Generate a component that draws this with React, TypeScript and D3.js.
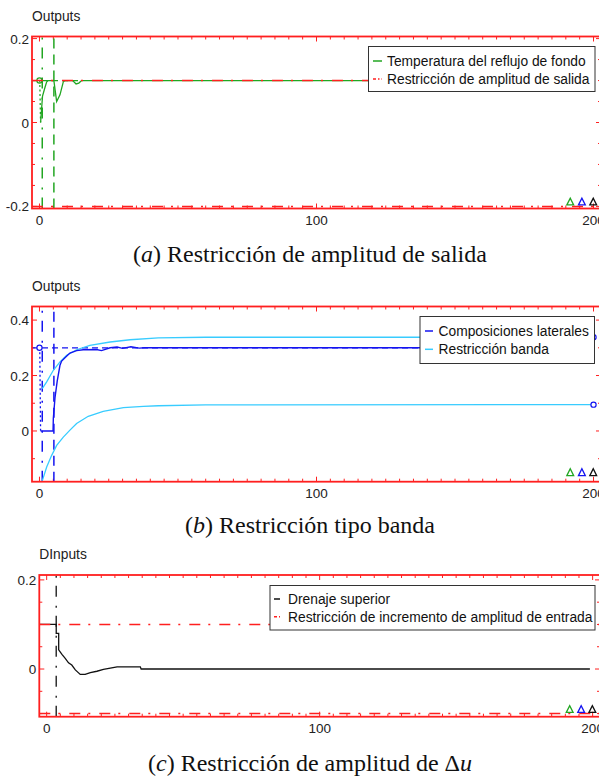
import React from "react";
import * as d3 from "d3";

// ---------- shared ----------
const SANS = "'Liberation Sans', Arial, Helvetica, sans-serif";
const SERIF = "'Liberation Serif', 'Times New Roman', serif";
const RED = "#ff1f1f";
const GREEN = "#22a622";
const BLUE = "#1414f0";
const CYAN = "#38ccff";
const BLACK = "#111111";

const xExtent = [-2.7, 202.7];
const xMinorStep = 5;
const xLabels = [0, 100, 200];
const horizonTriangleT = [191.6, 195.8, 199.9];
const horizonTriangleColors = [GREEN, BLUE, BLACK];

// ---------- panel (a): output amplitude constraint ----------
const aTime = [0.4, 1.1, 2.0, 2.6, 3.2, 5.2, 6.2, 7.4, 8.6, 9.2, 12.0, 13.2, 14.2, 15.2, 200];
const aTemp = [0.0, 0.063, 0.084, 0.097, 0.1, 0.1, 0.05, 0.066, 0.097, 0.1, 0.1, 0.092, 0.094, 0.1, 0.1];
const aStartTime = [0.1, 0.4];
const aStartValue = [0.1, 0.0];
const aSetpoint = 0.1;
const aSetpointEnd = 15;
const aLimits = [0.1, -0.2];
const aYDomain = [-0.205, 0.205];
const aYMinor = 0.05;
const aYLabels = [-0.2, 0, 0.2];

// ---------- panel (b): band constraint ----------
const bTime = [0.4, 4.9, 5.0, 5.6, 6.4, 7.4, 8.0, 9.2, 11.0, 13.4, 15.8, 20.6, 22.4, 25.5, 28, 30, 33, 36, 38, 200];
const bComp = [0, 0, 0.045, 0.12, 0.18, 0.237, 0.252, 0.264, 0.281, 0.29, 0.293, 0.294, 0.29, 0.3, 0.303, 0.298, 0.304, 0.299, 0.3, 0.3];
const bStartTime = [0.1, 0.4];
const bStartValue = [0.3, 0.0];
const bSetpoint = 0.3;
const bBandUpperTime = [1.0, 2.6, 5.0, 7.4, 9.8, 13.4, 18.2, 25.5, 32.7, 42.9, 60, 200];
const bBandUpper = [0.153, 0.177, 0.219, 0.249, 0.273, 0.293, 0.309, 0.321, 0.329, 0.336, 0.338, 0.338];
const bBandLowerTime = [1.0, 2.6, 4.4, 6.2, 8.6, 11.0, 13.4, 17.6, 23.0, 30.3, 37.5, 42.9, 60, 200];
const bBandLower = [-0.18, -0.13, -0.088, -0.052, -0.022, 0.003, 0.027, 0.053, 0.071, 0.084, 0.089, 0.091, 0.094, 0.095];
const bYDomain = [-0.183, 0.449];
const bYMinor = 0.1;
const bYLabels = [0, 0.2, 0.4];

// ---------- panel (c): input increment constraint ----------
const cTime = [-2.7, 3.5, 3.5, 4.4, 4.4, 5.6, 6.8, 8.0, 9.2, 10.5, 12.3, 14.1, 16.0, 18.4, 20.8, 23.3, 25.8, 34.3, 34.6, 199];
const cDrain = [0.1, 0.1, 0.08, 0.08, 0.043, 0.033, 0.024, 0.014, 0.009, -0.002, -0.012, -0.012, -0.008, -0.005, -0.001, 0.002, 0.005, 0.005, 0.0, 0.0];
const cMark = 3.5;
const cLimits = [0.1, -0.1];
const cYDomain = [-0.107, 0.211];
const cYMinor = 0.05;
const cYLabels = [0, 0.2];

const DASH_DOT = "11,8,2,9";
const DASHED = "10,6";
const DOTTED = "2,2.5";

type Scale = d3.ScaleLinear<number, number>;

const zip = (t: number[], v: number[]) => t.map((d, i) => [d, v[i]] as [number, number]);

function pathOf(x: Scale, y: Scale, pts: [number, number][]) {
  return d3
    .line<[number, number]>()
    .x((d) => x(d[0]))
    .y((d) => y(d[1]))(pts) as string;
}

function Axes({ x, y, yMinor, yLabels, title, titleY, clipId }: {
  x: Scale; y: Scale; yMinor: number; yLabels: number[]; title: string; titleY: number; clipId: string;
}) {
  const [x0, x1] = x.range();
  const [y0, y1] = y.range(); // y0 bottom, y1 top
  const xt = d3.range(0, 200 + 1e-6, xMinorStep);
  const [ylo, yhi] = y.domain();
  const yt = d3
    .range(Math.ceil(ylo / yMinor - 1e-6), Math.floor(yhi / yMinor + 1e-6) + 1)
    .map((k) => +(k * yMinor).toFixed(4));
  const isMajorX = (v: number) => xLabels.includes(v);
  const isMajorY = (v: number) => yLabels.some((l) => Math.abs(l - v) < 1e-6);
  return (
    <g>
      <defs>
        <clipPath id={clipId}>
          <rect x={x0} y={y1} width={x1 - x0} height={y0 - y1} />
        </clipPath>
      </defs>
      <text x={x0} y={titleY} fontFamily={SANS} fontSize={13.8} fill="#222">{title}</text>
      {xt.map((v) => {
        const len = isMajorX(v) ? 5 : 3;
        return (
          <g key={"xt" + v}>
            <line x1={x(v)} x2={x(v)} y1={y0} y2={y0 - len} stroke={RED} strokeWidth={1} />
            <line x1={x(v)} x2={x(v)} y1={y1} y2={y1 + len} stroke={RED} strokeWidth={1} />
          </g>
        );
      })}
      {yt.map((v) => {
        const len = isMajorY(v) ? 5 : 3;
        return (
          <g key={"yt" + v}>
            <line x1={x0} x2={x0 + len} y1={y(v)} y2={y(v)} stroke={RED} strokeWidth={1} />
            <line x1={x1} x2={x1 - len} y1={y(v)} y2={y(v)} stroke={RED} strokeWidth={1} />
          </g>
        );
      })}
      {xLabels.map((v) => (
        <text key={"xl" + v} x={x(v)} y={y0 + 16} textAnchor="middle" fontFamily={SANS} fontSize={13.5} fill="#222">
          {v}
        </text>
      ))}
      {yLabels.map((v) => (
        <text key={"yl" + v} x={x0 - 3} y={y(v) + 5} textAnchor="end" fontFamily={SANS} fontSize={13.5} fill="#222">
          {v === 0 ? "0" : String(v)}
        </text>
      ))}
    </g>
  );
}

function FrameBox({ x, y }: { x: Scale; y: Scale }) {
  const [x0, x1] = x.range();
  const [y0, y1] = y.range();
  return <rect x={x0} y={y1} width={x1 - x0} height={y0 - y1} fill="none" stroke={RED} strokeWidth={1.8} />;
}

function Triangles({ x, y, offset }: { x: Scale; y: Scale; offset: number }) {
  const yb = y.range()[0] - offset;
  const s = 3.4;
  return (
    <g>
      {horizonTriangleT.map((t, i) => (
        <path
          key={i}
          d={`M${x(t) - s},${yb + s}L${x(t)},${yb - s}L${x(t) + s},${yb + s}Z`}
          fill="none"
          stroke={horizonTriangleColors[i]}
          strokeWidth={1.3}
        />
      ))}
    </g>
  );
}

type Row = { label: string; color: string; dash?: string };

function Legend({ bx, by, bw, bh, rows, rowY, mx0, mx1, tx }: {
  bx: number; by: number; bw: number; bh: number; rows: Row[]; rowY: number[]; mx0: number; mx1: number; tx: number;
}) {
  return (
    <g>
      <rect x={bx} y={by} width={bw} height={bh} fill="#fff" stroke="#333" strokeWidth={1} />
      {rows.map((r, i) => (
        <g key={i}>
          <line x1={mx0} x2={mx1} y1={rowY[i]} y2={rowY[i]} stroke={r.color} strokeWidth={1.5} strokeDasharray={r.dash} />
          <text x={tx} y={rowY[i] + 5} fontFamily={SANS} fontSize={13.8} fill="#111">{r.label}</text>
        </g>
      ))}
    </g>
  );
}

function Caption({ letter, children, y }: { letter: string; children: React.ReactNode; y: number }) {
  return (
    <text x={310} y={y} textAnchor="middle" fontFamily={SERIF} fontSize={24} fill="#111">
      (<tspan fontStyle="italic">{letter}</tspan>) {children}
    </text>
  );
}

function PanelA() {
  const x = d3.scaleLinear().domain(xExtent).range([32, 601]);
  const y = d3.scaleLinear().domain(aYDomain).range([208.5, 36.5]);
  const [ylo, yhi] = y.domain();
  return (
    <g>
      <Axes x={x} y={y} yMinor={aYMinor} yLabels={aYLabels} title="Outputs" titleY={20.5} clipId="clipA" />
      <g clipPath="url(#clipA)">
        {horizonMarks.map((t, i) => (
          <path key={i} d={pathOf(x, y, [[t, ylo], [t, yhi]])} stroke={GREEN} strokeWidth={1.5}
            strokeDasharray={i === 0 ? DASH_DOT : DASHED} fill="none" />
        ))}
        <path d={pathOf(x, y, [[xExtent[0], aSetpoint], [aSetpointEnd, aSetpoint]])} stroke={GREEN} strokeWidth={1.3} strokeDasharray="6,4" fill="none" />
        <path d={pathOf(x, y, zip(aStartTime, aStartValue))} stroke={GREEN} strokeWidth={1.3} strokeDasharray={DOTTED} fill="none" />
        <path d={pathOf(x, y, zip(aTime, aTemp))} stroke={GREEN} strokeWidth={1.3} fill="none" />
        <circle cx={x(0)} cy={y(aSetpoint)} r={2.6} fill="none" stroke={GREEN} strokeWidth={1.2} />
        {aLimits.map((v) => (
          <path key={v} d={pathOf(x, y, [[xExtent[0], v], [xExtent[1], v]])} stroke={RED} strokeWidth={1.5} strokeDasharray={DASH_DOT} fill="none" />
        ))}
      </g>
      <Triangles x={x} y={y} offset={7} />
      <FrameBox x={x} y={y} />
      <Legend bx={368.5} by={46.5} bw={226.5} bh={45} rowY={[61, 79]} mx0={373} mx1={382} tx={387}
        rows={[
          { label: "Temperatura del reflujo de fondo", color: GREEN },
          { label: "Restricción de amplitud de salida", color: RED, dash: "3,2,1.5,2" },
        ]} />
      <Caption letter="a" y={262}>Restricción de amplitud de salida</Caption>
    </g>
  );
}

const horizonMarks = [1.0, 5.2];

function PanelB() {
  const x = d3.scaleLinear().domain(xExtent).range([32, 601]);
  const y = d3.scaleLinear().domain(bYDomain).range([481.7, 306.5]);
  const [ylo, yhi] = y.domain();
  const up = zip(bBandUpperTime, bBandUpper);
  const lo = zip(bBandLowerTime, bBandLower);
  return (
    <g>
      <Axes x={x} y={y} yMinor={bYMinor} yLabels={bYLabels} title="Outputs" titleY={290.7} clipId="clipB" />
      <g clipPath="url(#clipB)">
        {horizonMarks.map((t, i) => (
          <path key={i} d={pathOf(x, y, [[t, ylo], [t, yhi]])} stroke={BLUE} strokeWidth={1.5}
            strokeDasharray={i === 0 ? DASH_DOT : DASHED} fill="none" />
        ))}
        <path d={pathOf(x, y, [[xExtent[0], bSetpoint], [200, bSetpoint]])} stroke={BLUE} strokeWidth={1.3} strokeDasharray="6,4" fill="none" />
        <path d={pathOf(x, y, zip(bStartTime, bStartValue))} stroke={BLUE} strokeWidth={1.3} strokeDasharray={DOTTED} fill="none" />
        <path d={pathOf(x, y, up)} stroke={CYAN} strokeWidth={1.3} fill="none" />
        <path d={pathOf(x, y, lo)} stroke={CYAN} strokeWidth={1.3} fill="none" />
        <path d={pathOf(x, y, zip(bTime, bComp))} stroke={BLUE} strokeWidth={1.4} fill="none" />
        <circle cx={x(0)} cy={y(bSetpoint)} r={2.6} fill="#fff" stroke={BLUE} strokeWidth={1.2} />
        <circle cx={x(up[up.length - 1][0])} cy={y(up[up.length - 1][1])} r={2.6} fill="#fff" stroke={BLUE} strokeWidth={1.2} />
        <circle cx={x(lo[lo.length - 1][0])} cy={y(lo[lo.length - 1][1])} r={2.6} fill="#fff" stroke={BLUE} strokeWidth={1.2} />
      </g>
      <Triangles x={x} y={y} offset={9.5} />
      <FrameBox x={x} y={y} />
      <Legend bx={420} by={316.5} bw={174.5} bh={47} rowY={[331, 349.3]} mx0={425} mx1={433} tx={438.5}
        rows={[
          { label: "Composiciones laterales", color: BLUE },
          { label: "Restricción banda", color: CYAN },
        ]} />
      <Caption letter="b" y={533}>Restricción tipo banda</Caption>
    </g>
  );
}

function PanelC() {
  const x = d3.scaleLinear().domain(xExtent).range([39.3, 600]);
  const y = d3.scaleLinear().domain(cYDomain).range([716.7, 575]);
  const [ylo, yhi] = y.domain();
  return (
    <g>
      <Axes x={x} y={y} yMinor={cYMinor} yLabels={cYLabels} title="DInputs" titleY={559.3} clipId="clipC" />
      <g clipPath="url(#clipC)">
        <path d={pathOf(x, y, [[cMark, ylo], [cMark, yhi]])} stroke="#333" strokeWidth={1.5} strokeDasharray={DASH_DOT} fill="none" />
        <path d={pathOf(x, y, zip(cTime, cDrain))} stroke={BLACK} strokeWidth={1.3} fill="none" />
        {cLimits.map((v) => (
          <path key={v} d={pathOf(x, y, [[xExtent[0], v], [xExtent[1], v]])} stroke={RED} strokeWidth={1.5} strokeDasharray={DASH_DOT} fill="none" />
        ))}
      </g>
      <Triangles x={x} y={y} offset={7.7} />
      <FrameBox x={x} y={y} />
      <Legend bx={270} by={585.5} bw={325} bh={44.5} rowY={[599, 616.7]} mx0={274} mx1={280} tx={288}
        rows={[
          { label: "Drenaje superior", color: BLACK },
          { label: "Restricción de incremento de amplitud de entrada", color: RED, dash: "3,2,1.5,2" },
        ]} />
      <Caption letter="c" y={771}>
        Restricción de amplitud de Δ<tspan fontStyle="italic">u</tspan>
      </Caption>
    </g>
  );
}

export default function App() {
  return (
    <svg
      width={599}
      height={777}
      viewBox="0 0 599 777"
      style={{ position: "absolute", left: 0, top: 0, background: "#fff" }}
    >
      <rect width={599} height={777} fill="#fff" />
      <PanelA />
      <PanelB />
      <PanelC />
    </svg>
  );
}
